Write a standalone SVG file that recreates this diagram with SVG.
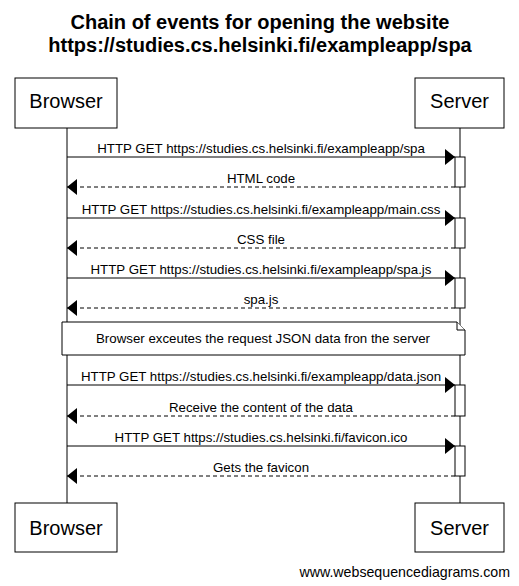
<svg xmlns="http://www.w3.org/2000/svg" width="519" height="586" viewBox="0 0 519 586">
<style>
  .title { font-family: "Liberation Sans", Arial, sans-serif; font-size: 20px; font-weight: bold; text-anchor: middle; fill: #000; }
  .actor rect { fill: #fff; stroke: #000; stroke-width: 1; }
  .actor text { font-family: "Liberation Sans", Arial, sans-serif; font-size: 20px; text-anchor: middle; fill: #000; }
  .life { stroke: #000; stroke-width: 1; }
  .act { fill: #fff; stroke: #000; stroke-width: 1; }
  .msg { stroke: #000; stroke-width: 1; fill: none; }
  .ret { stroke: #000; stroke-width: 1; fill: none; stroke-dasharray: 4,3; }
  .lbl { font-family: "Liberation Sans", Arial, sans-serif; font-size: 13.3px; text-anchor: middle; fill: #000; }
  .note path { fill: #fff; stroke: #000; stroke-width: 1; }
  .footer { font-family: "Liberation Sans", Arial, sans-serif; font-size: 14.2px; text-anchor: end; fill: #000; }
</style>
<defs>
  <marker id="head" viewBox="0 0 10 16" refX="10" refY="8" markerWidth="10" markerHeight="16" markerUnits="userSpaceOnUse" orient="auto">
    <path d="M0,0 L10,8 L0,16 Z" fill="#000"/>
  </marker>
</defs>
<rect width="519" height="586" fill="#fff"/>
<g id="title">
  <text class="title" x="260" y="29">Chain of events for opening the website</text>
  <text class="title" x="260" y="52">https://studies.cs.helsinki.fi/exampleapp/spa</text>
</g>
<g id="lifelines">
  <line class="life" x1="67" y1="128" x2="67" y2="503"/>
  <line class="life" x1="460" y1="128" x2="460" y2="503"/>
</g>
<g id="activations">
  <rect class="act" x="455" y="157" width="10" height="30"/>
  <rect class="act" x="455" y="218" width="10" height="30"/>
  <rect class="act" x="455" y="278" width="10" height="30"/>
  <rect class="act" x="455" y="385" width="10" height="31"/>
  <rect class="act" x="455" y="446" width="10" height="30"/>
</g>
<g id="browser-top" class="actor">
  <rect x="15" y="78" width="102" height="50"/>
  <text x="66" y="108">Browser</text>
</g>
<g id="server-top" class="actor">
  <rect x="415" y="78" width="89" height="50"/>
  <text x="459.5" y="108">Server</text>
</g>
<g id="browser-bottom" class="actor">
  <rect x="15" y="503" width="102" height="49"/>
  <text x="66" y="535">Browser</text>
</g>
<g id="server-bottom" class="actor">
  <rect x="415" y="503" width="89" height="49"/>
  <text x="459.5" y="535">Server</text>
</g>
<g id="note" class="note">
  <path d="M62,322 L457,322 L465,330 L465,355 L62,355 Z"/>
  <path d="M457,322 L457,330 L465,330"/>
  <text class="lbl" x="263" y="343">Browser exceutes the request JSON data fron the server</text>
</g>
<g id="connectors">
  <line class="msg" x1="67" y1="157" x2="455" y2="157" marker-end="url(#head)"/>
  <text class="lbl" x="261" y="153">HTTP GET https://studies.cs.helsinki.fi/exampleapp/spa</text>
  <line class="ret" x1="455" y1="187" x2="67" y2="187" marker-end="url(#head)"/>
  <text class="lbl" x="261" y="183">HTML code</text>
  <line class="msg" x1="67" y1="218" x2="455" y2="218" marker-end="url(#head)"/>
  <text class="lbl" x="261" y="214">HTTP GET https://studies.cs.helsinki.fi/exampleapp/main.css</text>
  <line class="ret" x1="455" y1="248" x2="67" y2="248" marker-end="url(#head)"/>
  <text class="lbl" x="261" y="244">CSS file</text>
  <line class="msg" x1="67" y1="278" x2="455" y2="278" marker-end="url(#head)"/>
  <text class="lbl" x="261" y="274">HTTP GET https://studies.cs.helsinki.fi/exampleapp/spa.js</text>
  <line class="ret" x1="455" y1="308" x2="67" y2="308" marker-end="url(#head)"/>
  <text class="lbl" x="261" y="304">spa.js</text>
  <line class="msg" x1="67" y1="385" x2="455" y2="385" marker-end="url(#head)"/>
  <text class="lbl" x="261" y="381">HTTP GET https://studies.cs.helsinki.fi/exampleapp/data.json</text>
  <line class="ret" x1="455" y1="416" x2="67" y2="416" marker-end="url(#head)"/>
  <text class="lbl" x="261" y="412">Receive the content of the data</text>
  <line class="msg" x1="67" y1="446" x2="455" y2="446" marker-end="url(#head)"/>
  <text class="lbl" x="261" y="442">HTTP GET https://studies.cs.helsinki.fi/favicon.ico</text>
  <line class="ret" x1="455" y1="476" x2="67" y2="476" marker-end="url(#head)"/>
  <text class="lbl" x="261" y="472">Gets the favicon</text>
</g>
<text class="footer" x="510" y="577">www.websequencediagrams.com</text>
</svg>
